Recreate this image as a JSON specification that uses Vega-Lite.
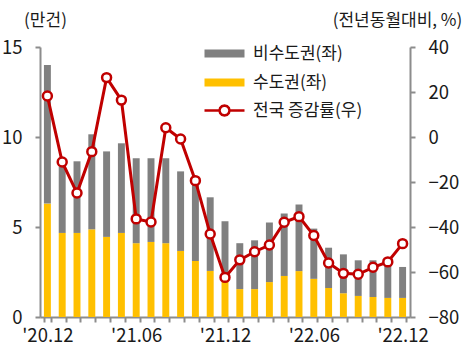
{
  "$schema": "https://vega.github.io/schema/vega-lite/v6.json",
  "width": 370,
  "height": 270,
  "autosize": {"type": "none"},
  "padding": {"left": 40, "top": 47, "right": 58, "bottom": 35},
  "background": "white",
  "config": {
    "view": {"stroke": null},
    "font": "Noto Sans CJK KR",
    "axis": {
      "grid": false,
      "domainColor": "#8c8c8c",
      "domainWidth": 2,
      "tickColor": "#8c8c8c",
      "tickWidth": 2,
      "tickSize": 5,
      "labelFont": "Noto Sans CJK KR",
      "labelFontSize": 18.5,
      "labelColor": "#1a1a1a",
      "titleFont": "Noto Sans CJK KR",
      "titleFontSize": 17,
      "titleFontWeight": "normal",
      "titleColor": "#1a1a1a"
    },
    "legend": {
      "labelFont": "Noto Sans CJK KR",
      "labelFontSize": 17,
      "labelColor": "#1a1a1a"
    }
  },
  "data": {
    "values": [
      {"m": "'20.12", "capital": 6.3, "noncapital": 7.7, "yoy": 18.2},
      {"m": "'21.01", "capital": 4.67, "noncapital": 3.68, "yoy": -11.1},
      {"m": "'21.02", "capital": 4.67, "noncapital": 3.98, "yoy": -24.9},
      {"m": "'21.03", "capital": 4.87, "noncapital": 5.28, "yoy": -6.5},
      {"m": "'21.04", "capital": 4.45, "noncapital": 4.75, "yoy": 26.4},
      {"m": "'21.05", "capital": 4.67, "noncapital": 4.98, "yoy": 16.4},
      {"m": "'21.06", "capital": 4.1, "noncapital": 4.72, "yoy": -36.4},
      {"m": "'21.07", "capital": 4.17, "noncapital": 4.65, "yoy": -37.8},
      {"m": "'21.08", "capital": 4.1, "noncapital": 4.72, "yoy": 4.1},
      {"m": "'21.09", "capital": 3.67, "noncapital": 4.42, "yoy": -0.9},
      {"m": "'21.10", "capital": 3.11, "noncapital": 4.29, "yoy": -19.4},
      {"m": "'21.11", "capital": 2.56, "noncapital": 4.09, "yoy": -43.1},
      {"m": "'21.12", "capital": 2.0, "noncapital": 3.32, "yoy": -62.4},
      {"m": "'22.01", "capital": 1.55, "noncapital": 2.55, "yoy": -54.6},
      {"m": "'22.02", "capital": 1.55, "noncapital": 2.71, "yoy": -51.0},
      {"m": "'22.03", "capital": 1.94, "noncapital": 3.31, "yoy": -48.0},
      {"m": "'22.04", "capital": 2.28, "noncapital": 3.47, "yoy": -37.9},
      {"m": "'22.05", "capital": 2.55, "noncapital": 3.7, "yoy": -35.4},
      {"m": "'22.06", "capital": 2.12, "noncapital": 2.79, "yoy": -43.8},
      {"m": "'22.07", "capital": 1.61, "noncapital": 2.24, "yoy": -56.0},
      {"m": "'22.08", "capital": 1.32, "noncapital": 2.16, "yoy": -60.6},
      {"m": "'22.09", "capital": 1.17, "noncapital": 1.98, "yoy": -61.0},
      {"m": "'22.10", "capital": 1.11, "noncapital": 2.04, "yoy": -57.9},
      {"m": "'22.11", "capital": 1.06, "noncapital": 1.9, "yoy": -55.5},
      {"m": "'22.12", "capital": 1.06, "noncapital": 1.72, "yoy": -47.4}
    ]
  },
  "layer": [
    {
      "transform": [{"fold": ["capital", "noncapital"], "as": ["region", "value"]}],
      "mark": {"type": "bar"},
      "encoding": {
        "x": {
          "field": "m",
          "type": "ordinal",
          "sort": null,
          "scale": {"paddingInner": 0.53, "paddingOuter": 0.265},
          "axis": {
            "title": null,
            "labelAngle": 0,
            "tickBand": "extent",
            "labelPadding": 4,
            "labelExpr": "(slice(datum.label, -2) == '06' || slice(datum.label, -2) == '12') ? datum.label : ''"
          }
        },
        "y": {
          "field": "value",
          "type": "quantitative",
          "stack": "zero",
          "scale": {"domain": [0, 15], "nice": false},
          "axis": {
            "values": [0, 5, 10, 15],
            "title": "(만건)",
            "titleAngle": 0,
            "titleX": 5,
            "titleY": -27,
            "titleAlign": "center",
            "titleBaseline": "middle",
            "labelPadding": 13
          }
        },
        "fill": {
          "field": "region",
          "type": "nominal",
          "scale": {"domain": ["noncapital", "capital"], "range": ["#808080", "#ffc000"]},
          "legend": {
            "orient": "none",
            "legendX": 176,
            "legendY": -2,
            "title": null,
            "symbolType": "M-4,-0.8H4V0.8H-4Z",
            "symbolSize": 100,
            "symbolStrokeWidth": 0,
            "labelOffset": 20,
            "rowPadding": 11,
            "labelExpr": "datum.label == 'noncapital' ? '비수도권(좌)' : '수도권(좌)'"
          }
        },
        "order": {"field": "region", "sort": "ascending"}
      }
    },
    {
      "layer": [
        {
          "mark": {"type": "line", "strokeWidth": 3},
          "encoding": {
            "x": {"field": "m", "type": "ordinal", "sort": null},
            "y": {
              "field": "yoy",
              "type": "quantitative",
              "scale": {"domain": [-80, 40], "nice": false},
              "axis": {
                "orient": "right",
                "values": [-80, -60, -40, -20, 0, 20, 40],
                "title": "(전년동월대비, %)",
                "titleAngle": 0,
                "titleX": -13,
                "titleY": -27,
                "titleAlign": "center",
                "titleBaseline": "middle",
                "labelPadding": 13
              }
            },
            "stroke": {
              "datum": "전국 증감률(우)",
              "scale": {"range": ["#c00000"]},
              "legend": {
                "orient": "none",
                "legendX": 176,
                "legendY": 55,
                "title": null,
                "symbolType": "M-4,0H-1M1,0H4M1,0L0.866,0.5L0.5,0.866L0,1L-0.5,0.866L-0.866,0.5L-1,0L-0.866,-0.5L-0.5,-0.866L0,-1L0.5,-0.866L0.866,-0.5Z",
                "symbolSize": 100,
                "symbolStrokeWidth": 2.5,
                "symbolFillColor": "white",
                "labelOffset": 20,
                "encode": {"symbols": {"update": {"fill": {"value": "white"}}}}
              }
            }
          }
        },
        {
          "mark": {"type": "point", "filled": true, "fill": "white", "stroke": "#c00000", "strokeWidth": 2.5, "size": 80, "opacity": 1},
          "encoding": {
            "x": {"field": "m", "type": "ordinal", "sort": null},
            "y": {"field": "yoy", "type": "quantitative", "scale": {"domain": [-80, 40], "nice": false}}
          }
        }
      ]
    }
  ],
  "resolve": {"scale": {"y": "independent"}}
}
